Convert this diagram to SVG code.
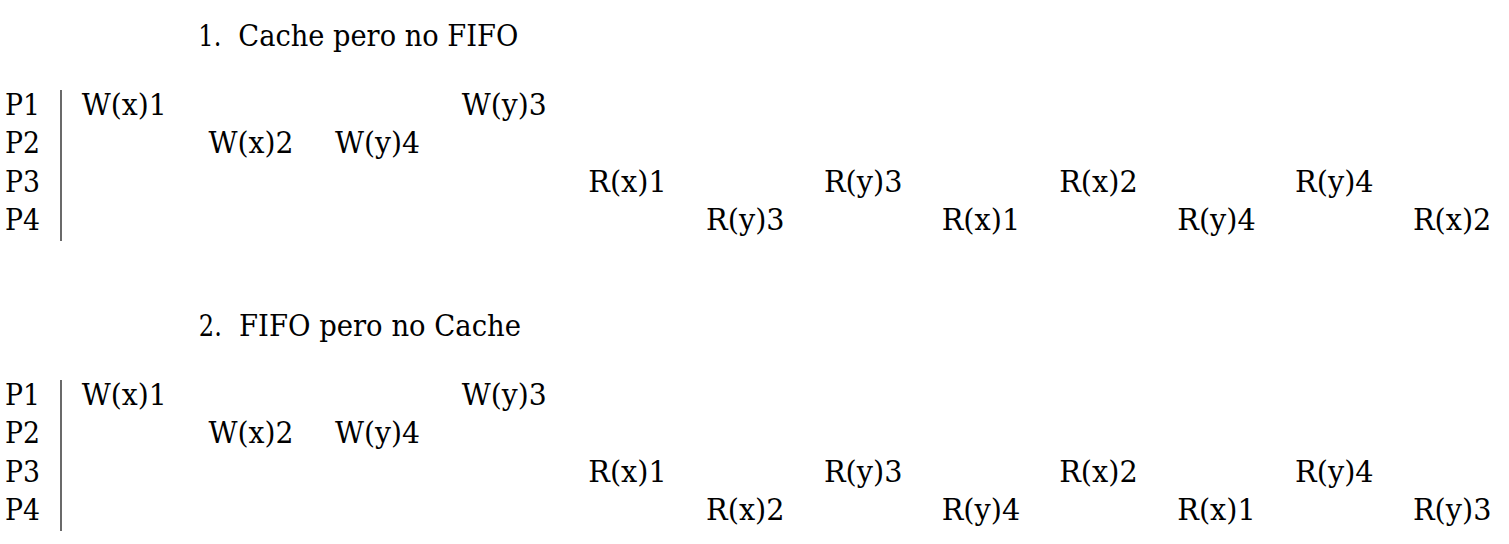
<svg xmlns="http://www.w3.org/2000/svg" width="1509" height="544" viewBox="0 0 1509 544">
<style>
text{font-family:'DejaVu Serif',serif;font-size:29px;fill:#000}
.sep{stroke:#1a1a1a;stroke-width:1.3}
</style>
<rect width="1509" height="544" fill="#fff"/>
<g id="block1">
<g id="title1"><text x="198.3" y="46" textLength="23" lengthAdjust="spacingAndGlyphs">1.</text><text x="238.3" y="46" textLength="280" lengthAdjust="spacingAndGlyphs">Cache pero no FIFO</text></g>
<g id="labels1">
<text x="5" y="114.7" textLength="35" lengthAdjust="spacingAndGlyphs">P1</text>
<text x="5" y="153.2" textLength="35" lengthAdjust="spacingAndGlyphs">P2</text>
<text x="5" y="191.7" textLength="35" lengthAdjust="spacingAndGlyphs">P3</text>
<text x="5" y="230" textLength="35" lengthAdjust="spacingAndGlyphs">P4</text>
</g>
<line class="sep" x1="61" y1="90" x2="61" y2="241"/>
<g id="ops1">
<text x="81.7" y="114.7" textLength="85" lengthAdjust="spacingAndGlyphs">W(x)1</text>
<text x="208.4" y="153.2" textLength="85" lengthAdjust="spacingAndGlyphs">W(x)2</text>
<text x="335" y="153.2" textLength="85" lengthAdjust="spacingAndGlyphs">W(y)4</text>
<text x="461.7" y="114.7" textLength="85" lengthAdjust="spacingAndGlyphs">W(y)3</text>
<text x="588.3" y="191.7" textLength="78.5" lengthAdjust="spacingAndGlyphs">R(x)1</text>
<text x="706.1" y="230" textLength="78.5" lengthAdjust="spacingAndGlyphs">R(y)3</text>
<text x="823.9" y="191.7" textLength="78.5" lengthAdjust="spacingAndGlyphs">R(y)3</text>
<text x="941.7" y="230" textLength="78.5" lengthAdjust="spacingAndGlyphs">R(x)1</text>
<text x="1059.2" y="191.7" textLength="78.5" lengthAdjust="spacingAndGlyphs">R(x)2</text>
<text x="1177.3" y="230" textLength="78.5" lengthAdjust="spacingAndGlyphs">R(y)4</text>
<text x="1295.1" y="191.7" textLength="78.5" lengthAdjust="spacingAndGlyphs">R(y)4</text>
<text x="1412.9" y="230" textLength="78.5" lengthAdjust="spacingAndGlyphs">R(x)2</text>
</g>
</g>
<g id="block2">
<g id="title2"><text x="198.8" y="336" textLength="23" lengthAdjust="spacingAndGlyphs">2.</text><text x="239" y="336" textLength="282" lengthAdjust="spacingAndGlyphs">FIFO pero no Cache</text></g>
<g id="labels2">
<text x="5" y="404.7" textLength="35" lengthAdjust="spacingAndGlyphs">P1</text>
<text x="5" y="443.2" textLength="35" lengthAdjust="spacingAndGlyphs">P2</text>
<text x="5" y="481.7" textLength="35" lengthAdjust="spacingAndGlyphs">P3</text>
<text x="5" y="520" textLength="35" lengthAdjust="spacingAndGlyphs">P4</text>
</g>
<line class="sep" x1="61" y1="380" x2="61" y2="531"/>
<g id="ops2">
<text x="81.7" y="404.7" textLength="85" lengthAdjust="spacingAndGlyphs">W(x)1</text>
<text x="208.4" y="443.2" textLength="85" lengthAdjust="spacingAndGlyphs">W(x)2</text>
<text x="335" y="443.2" textLength="85" lengthAdjust="spacingAndGlyphs">W(y)4</text>
<text x="461.7" y="404.7" textLength="85" lengthAdjust="spacingAndGlyphs">W(y)3</text>
<text x="588.3" y="481.7" textLength="78.5" lengthAdjust="spacingAndGlyphs">R(x)1</text>
<text x="706.1" y="520" textLength="78.5" lengthAdjust="spacingAndGlyphs">R(x)2</text>
<text x="823.9" y="481.7" textLength="78.5" lengthAdjust="spacingAndGlyphs">R(y)3</text>
<text x="941.7" y="520" textLength="78.5" lengthAdjust="spacingAndGlyphs">R(y)4</text>
<text x="1059.2" y="481.7" textLength="78.5" lengthAdjust="spacingAndGlyphs">R(x)2</text>
<text x="1177.3" y="520" textLength="78.5" lengthAdjust="spacingAndGlyphs">R(x)1</text>
<text x="1295.1" y="481.7" textLength="78.5" lengthAdjust="spacingAndGlyphs">R(y)4</text>
<text x="1412.9" y="520" textLength="78.5" lengthAdjust="spacingAndGlyphs">R(y)3</text>
</g>
</g>
</svg>
